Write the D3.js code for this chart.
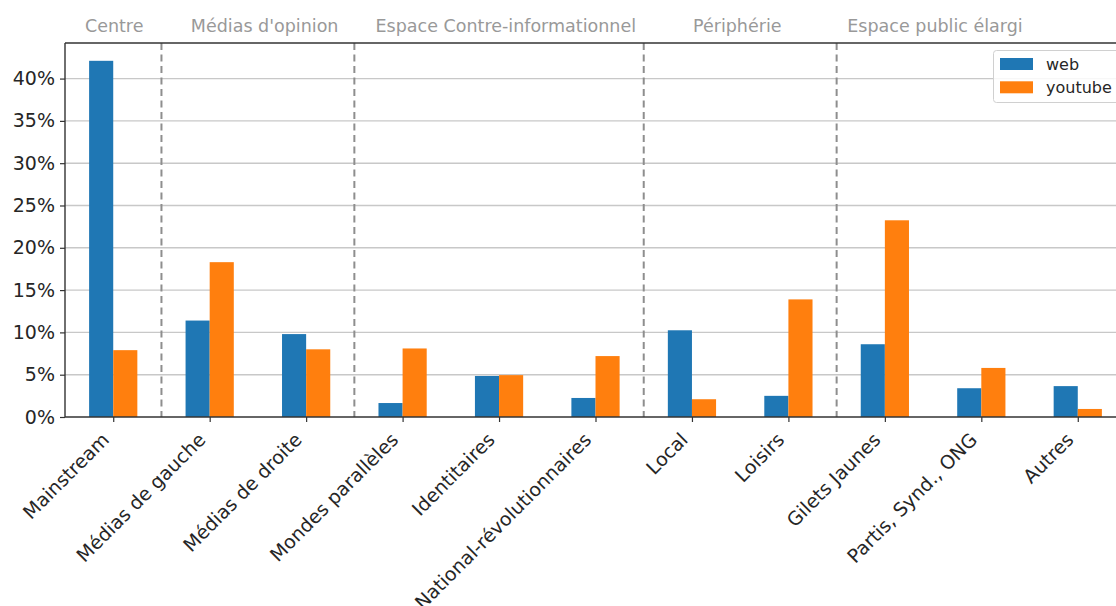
<!DOCTYPE html>
<html><head><meta charset="utf-8">
<script src="https://cdn.jsdelivr.net/npm/d3@7"></script>
<style>
body{margin:0;background:#fff;}
svg{display:block;font-family:"DejaVu Sans",sans-serif;}
</style></head>
<body>
<svg id="chart" width="1116" height="606"></svg>
<script>
const categories = ["Mainstream","Médias de gauche","Médias de droite","Mondes parallèles","Identitaires","National-révolutionnaires","Local","Loisirs","Gilets Jaunes","Partis, Synd., ONG","Autres"];
const webValues = [0.421,0.114,0.098,0.0165,0.0485,0.0225,0.1025,0.025,0.086,0.034,0.0365];
const youtubeValues = [0.079,0.183,0.080,0.081,0.0495,0.072,0.021,0.139,0.2325,0.058,0.0095];
const seriesNames = ["web","youtube"];
const seriesColors = ["#1f77b4","#ff7f0e"];
const yTicks = [0,0.05,0.10,0.15,0.20,0.25,0.30,0.35,0.40];
const groupNames = ["Centre","Médias d'opinion","Espace Contre-informationnel","Périphérie","Espace public élargi"];
const groupCenters = [0.01,1.57,4.07,6.47,8.52];
const separators = [0.5,2.5,5.5,7.5];

const svg = d3.select("#chart");
const L = 65, R = 1126, T = 43, B = 417;
const x = d3.scaleLinear().domain([-0.5, categories.length - 0.5]).range([L, R]);
const y = d3.scaleLinear().domain([0, d3.max(webValues.concat(youtubeValues)) * 1.05]).range([B, T]);
const barW = 0.25;

// grid
svg.append("g").selectAll("line").data(yTicks.slice(1)).join("line")
  .attr("x1", L).attr("x2", R).attr("y1", d => y(d)).attr("y2", d => y(d))
  .attr("stroke", "#c8c8c8").attr("stroke-width", 1.4);

// bars
const series = [webValues, youtubeValues];
series.forEach((vals, s) => {
  svg.append("g").selectAll("rect").data(vals).join("rect")
    .attr("x", (d, i) => x(i + (s === 0 ? -barW : 0)))
    .attr("width", (d, i) => x(i + barW) - x(i))
    .attr("y", d => y(d))
    .attr("height", d => y(0) - y(d))
    .attr("fill", seriesColors[s]);
});

// separators
svg.append("g").selectAll("line").data(separators).join("line")
  .attr("x1", d => x(d)).attr("x2", d => x(d)).attr("y1", T).attr("y2", B)
  .attr("stroke", "#8e8e8e").attr("stroke-width", 2).attr("stroke-dasharray", "7,4.5");

// group labels
svg.append("g").selectAll("text").data(groupNames).join("text")
  .attr("x", (d, i) => x(groupCenters[i])).attr("y", 32)
  .attr("text-anchor", "middle").attr("fill", "#999999").attr("font-size", "17.5px")
  .text(d => d);

// axes
const yAxis = d3.axisLeft(y).tickValues(yTicks).tickFormat(d3.format(".0%")).tickSize(5).tickPadding(5);
const gy = svg.append("g").attr("transform", `translate(${L},0)`).call(yAxis);
gy.select(".domain").remove();
gy.selectAll(".tick line").attr("stroke", "#333").attr("stroke-width", 1.2);
gy.selectAll(".tick text").attr("font-size", "19px").attr("fill", "#262626").attr("font-family", "DejaVu Sans");

const xAxis = d3.axisBottom(x).tickValues(d3.range(categories.length)).tickFormat(i => categories[i]).tickSize(5);
const gx = svg.append("g").attr("transform", `translate(0,${B})`).call(xAxis);
gx.select(".domain").remove();
gx.selectAll(".tick line").attr("stroke", "#333").attr("stroke-width", 1.2);
gx.selectAll(".tick text")
  .attr("font-size", "19px").attr("fill", "#262626").attr("font-family", "DejaVu Sans")
  .attr("text-anchor", "end").attr("dy", null).attr("y", null)
  .attr("transform", "translate(-3.5,24) rotate(-45)");

// spines
svg.append("line").attr("x1", L).attr("x2", L).attr("y1", T).attr("y2", B).attr("stroke", "#333").attr("stroke-width", 1.4);
svg.append("line").attr("x1", L).attr("x2", R).attr("y1", B).attr("y2", B).attr("stroke", "#333").attr("stroke-width", 1.4);
svg.append("line").attr("x1", L).attr("x2", R).attr("y1", T).attr("y2", T).attr("stroke", "#333").attr("stroke-width", 1.4);

// legend
const lg = svg.append("g");
lg.append("rect").attr("x", 993.5).attr("y", 50.5).attr("width", 140).attr("height", 52)
  .attr("rx", 3).attr("fill", "#fff").attr("fill-opacity", 0.85).attr("stroke", "#d0d0d0").attr("stroke-width", 1);
seriesNames.forEach((n, i) => {
  lg.append("rect").attr("x", 1000).attr("y", 58 + i * 23.3).attr("width", 33).attr("height", 12).attr("fill", seriesColors[i]);
  lg.append("text").attr("x", 1046).attr("y", 69.5 + i * 23.3).attr("font-size", "16px").attr("fill", "#262626").text(n);
});
</script>
</body></html>
